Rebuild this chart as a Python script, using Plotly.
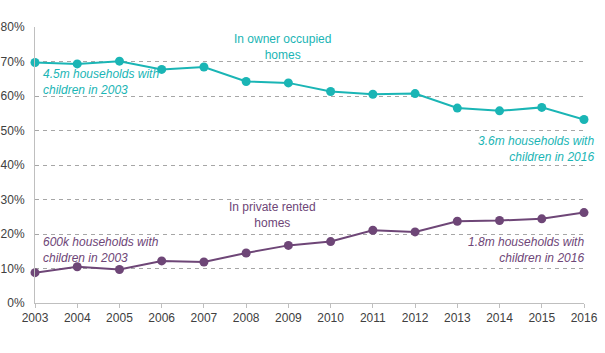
import plotly.graph_objects as go

years = list(range(2003, 2017))
owner_occupied = [69.7, 69.3, 70.1, 67.7, 68.4, 64.2, 63.8, 61.3, 60.5, 60.7, 56.5, 55.7, 56.7, 53.2]
private_rented = [8.8, 10.5, 9.7, 12.2, 11.9, 14.5, 16.7, 17.8, 21.1, 20.6, 23.7, 23.9, 24.4, 26.2]
y_ticks = [0, 10, 20, 30, 40, 50, 60, 70, 80]
y_tick_labels = [f"{v}%" for v in y_ticks]

TEAL = "#1AB5B5"
PURPLE = "#6E4677"
FONT = "Liberation Sans, Arial, sans-serif"

fig = go.Figure()
fig.add_trace(go.Scatter(x=years, y=owner_occupied, mode="lines+markers",
                         line=dict(color=TEAL, width=2), marker=dict(color=TEAL, size=9),
                         cliponaxis=False, name="Owner occupied"))
fig.add_trace(go.Scatter(x=years, y=private_rented, mode="lines+markers",
                         line=dict(color=PURPLE, width=2), marker=dict(color=PURPLE, size=9),
                         cliponaxis=False, name="Private rented"))

ann = [
    dict(text="In owner occupied<br>homes", x=0.450, y=0.927, xanchor="center", color=TEAL, italic=False),
    dict(text="4.5m households with<br>children in 2003", x=0.011, y=0.800, xanchor="left", color=TEAL, italic=True, align="left"),
    dict(text="3.6m households with<br>children in 2016", x=1.022, y=0.559, xanchor="right", color=TEAL, italic=True, align="right"),
    dict(text="In private rented<br>homes", x=0.4335, y=0.318, xanchor="center", color=PURPLE, italic=False),
    dict(text="600k households with<br>children in 2003", x=0.011, y=0.192, xanchor="left", color=PURPLE, italic=True, align="left"),
    dict(text="1.8m households with<br>children in 2016", x=1.0036, y=0.192, xanchor="right", color=PURPLE, italic=True, align="right"),
]
for a in ann:
    fig.add_annotation(x=a["x"], y=a["y"], xref="paper", yref="paper", text=a["text"],
                       showarrow=False, xanchor=a["xanchor"], yanchor="middle",
                       align=a.get("align", "center"),
                       font=dict(family=FONT, size=12, color=a["color"],
                                 style="italic" if a["italic"] else "normal"))

fig.update_layout(
    width=605, height=353,
    margin=dict(l=35, r=21, t=27, b=50),
    plot_bgcolor="white", paper_bgcolor="white",
    showlegend=False,
    font=dict(family=FONT, size=12, color="#404040"),
)
fig.update_xaxes(range=[2003, 2016], tickvals=years, ticktext=[str(y) for y in years],
                 showgrid=False, zeroline=False, showline=True, linecolor="#BFBFBF", linewidth=1,
                 ticks="outside", ticklen=4, tickcolor="#BFBFBF", automargin=False,
                 tickfont=dict(family=FONT, size=12, color="#404040"))
fig.update_yaxes(range=[0, 80], tickvals=y_ticks, ticktext=y_tick_labels,
                 showgrid=True, gridcolor="#A6A6A6", griddash="4px,4px", gridwidth=1,
                 zeroline=False, showline=True, linecolor="#BFBFBF", linewidth=1,
                 ticks="", ticklabelstandoff=7, automargin=False,
                 tickfont=dict(family=FONT, size=12, color="#404040"))

fig.write_html("out.html")
